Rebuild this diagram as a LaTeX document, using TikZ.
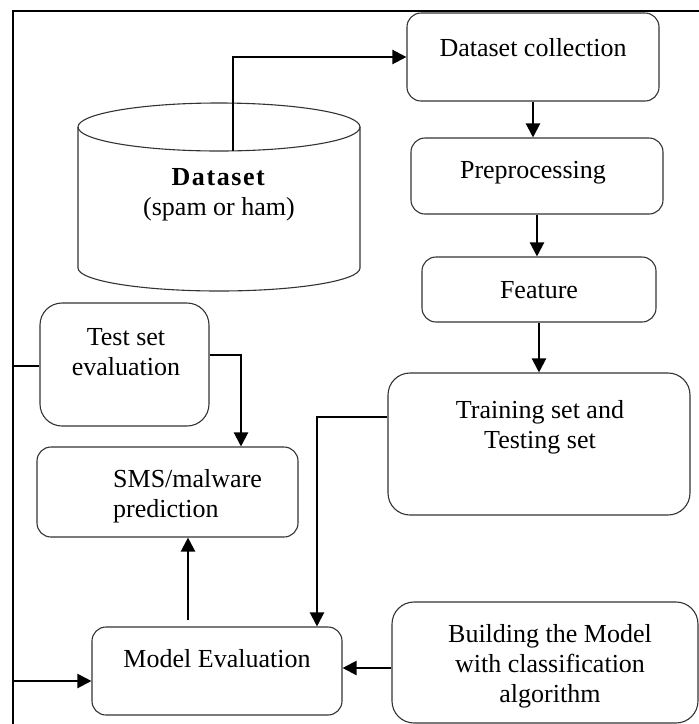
\documentclass[tikz,border=0pt]{standalone}
\usepackage{fontspec}
\setmainfont{Liberation Serif}
\usetikzlibrary{arrows.meta}
\begin{document}
\begin{tikzpicture}[x=1pt,y=-1pt,
  box/.style={draw=black!80, line width=1.1pt, rounded corners=14pt, inner sep=0pt},
  bigbox/.style={box, rounded corners=22pt},
  txt/.style={font=\fontsize{26}{30}\selectfont, align=center, inner sep=0pt, anchor=base},
  conn/.style={line width=2.2pt, -{Triangle[length=14pt,width=14pt]}},
  plain/.style={line width=2pt}]
\useasboundingbox (0,0) rectangle (699,724);
% frame
\draw[line width=2pt] (13,724) -- (13,11) -- (699,11);

% boxes
\node[box, minimum width=252pt, minimum height=88pt] (dc) at (533,57) {};
\node[box, minimum width=252pt, minimum height=76pt] (pre) at (537,176) {};
\node[box, minimum width=234pt, minimum height=65pt] (fea) at (539,289.5) {};
\node[bigbox, minimum width=302pt, minimum height=142pt] (trn) at (539,444) {};
\node[bigbox, minimum width=169pt, minimum height=123pt] (tse) at (124.5,364.5) {};
\node[box, minimum width=261pt, minimum height=90pt] (sms) at (167.5,492) {};
\node[box, minimum width=250pt, minimum height=88pt] (mev) at (217,671) {};
\node[bigbox, minimum width=306pt, minimum height=121pt] (bld) at (545,662.5) {};

% cylinder
\draw[draw=black!80, line width=1.1pt] (219,127) ellipse [x radius=141pt, y radius=24pt];
\draw[draw=black!80, line width=1.1pt] (78,127) -- (78,268)
  arc[start angle=180, end angle=360, x radius=141pt, y radius=23pt] -- (360,127);
\coordinate (cyl) at (233,151);

% texts (multi-line nodes: anchor at the baseline of the last line)
\node[txt] (tdc) at (533,56) {Dataset collection};
\node[txt] (tpre) at (533,178) {Preprocessing};
\node[txt] (tfea) at (539,298) {Feature};
\node[txt] (ttrn) at (540,448) {Training set and\\Testing set};
\node[txt] (ttse) at (126,375) {Test set\\evaluation};
\node[txt, anchor=base west, align=left] (tsms) at (113,517) {SMS/malware\\prediction};
\node[txt] (tmev) at (217,667) {Model Evaluation};
\node[txt] (tbld) at (550,702) {Building the Model\\with classification\\algorithm};
\node[txt] (tds) at (219,215) {\textbf{\addfontfeatures{LetterSpace=6}Dataset}\\(spam or ham)};

% frame points used as connector ends
\coordinate (fl) at (13,366);
\coordinate (fb) at (13,681);

% connectors
\draw[conn] (cyl) |- (dc.west);
\draw[conn] (dc.south) -- (dc.south |- pre.north);
\draw[conn] (pre.south) -- (pre.south |- fea.north);
\draw[conn] (fea.south) -- (fea.south |- trn.north);
\draw[conn] ([yshift=27pt]trn.west) -| ([xshift=100pt]mev.north);
\draw[conn] ([yshift=9.5pt]tse.east) -| ([xshift=73.5pt]sms.north);
\draw[plain] (tse.west |- fl) -- (fl);
\draw[conn] (fb) -- (fb -| mev.west);
\draw[conn] ([xshift=-29pt,yshift=6pt]mev.north) -- ([xshift=-29pt]mev.north |- sms.south);
\draw[conn] ([yshift=-5.5pt]bld.west) -- ([yshift=-5.5pt]bld.west -| mev.east);
\end{tikzpicture}
\end{document}
